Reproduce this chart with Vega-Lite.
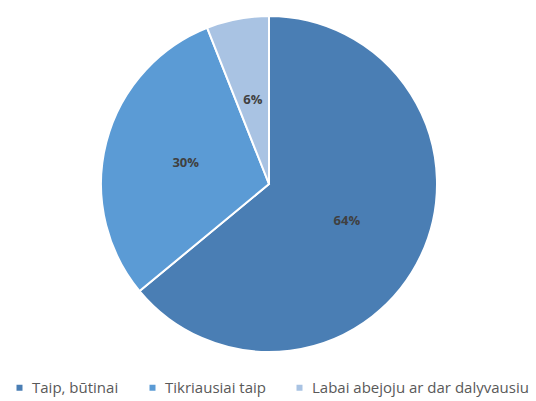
{
  "$schema": "https://vega.github.io/schema/vega-lite/v6.json",
  "width": 538,
  "height": 368,
  "autosize": {"type": "none"},
  "padding": {"top": 0, "left": 0, "right": 0, "bottom": 33},
  "background": "white",
  "data": {"values": [
    {"cat": "Taip, būtinai", "value": 64, "label": "64%", "ord": 1},
    {"cat": "Tikriausiai taip", "value": 30, "label": "30%", "ord": 2},
    {"cat": "Labai abejoju ar dar dalyvausiu", "value": 6, "label": "6%", "ord": 3}
  ]},
  "encoding": {
    "theta": {"field": "value", "type": "quantitative", "stack": true},
    "order": {"field": "ord", "type": "quantitative"},
    "color": {
      "field": "cat", "type": "nominal",
      "sort": ["Taip, būtinai", "Tikriausiai taip", "Labai abejoju ar dar dalyvausiu"],
      "scale": {"domain": ["Taip, būtinai", "Tikriausiai taip", "Labai abejoju ar dar dalyvausiu"], "range": ["#4a7eb4", "#5b9bd5", "#a9c3e3"]},
      "legend": {
        "orient": "none", "legendX": 12, "legendY": 380, "padding": 0,
        "direction": "horizontal", "title": null,
        "symbolType": "square", "symbolSize": 36, "symbolStrokeWidth": 0,
        "labelFont": "Open Sans", "labelFontSize": 15, "labelColor": "#595959",
        "labelOffset": 5, "columnPadding": 26, "labelLimit": 400
      }
    }
  },
  "layer": [
    {"mark": {"type": "arc", "outerRadius": 168, "stroke": "white", "strokeWidth": 2}},
    {"mark": {"type": "text", "radius": 86, "font": "Open Sans", "fontSize": 13, "fontWeight": "bold", "fill": "#404040"},
     "encoding": {"text": {"field": "label"}}}
  ]
}
